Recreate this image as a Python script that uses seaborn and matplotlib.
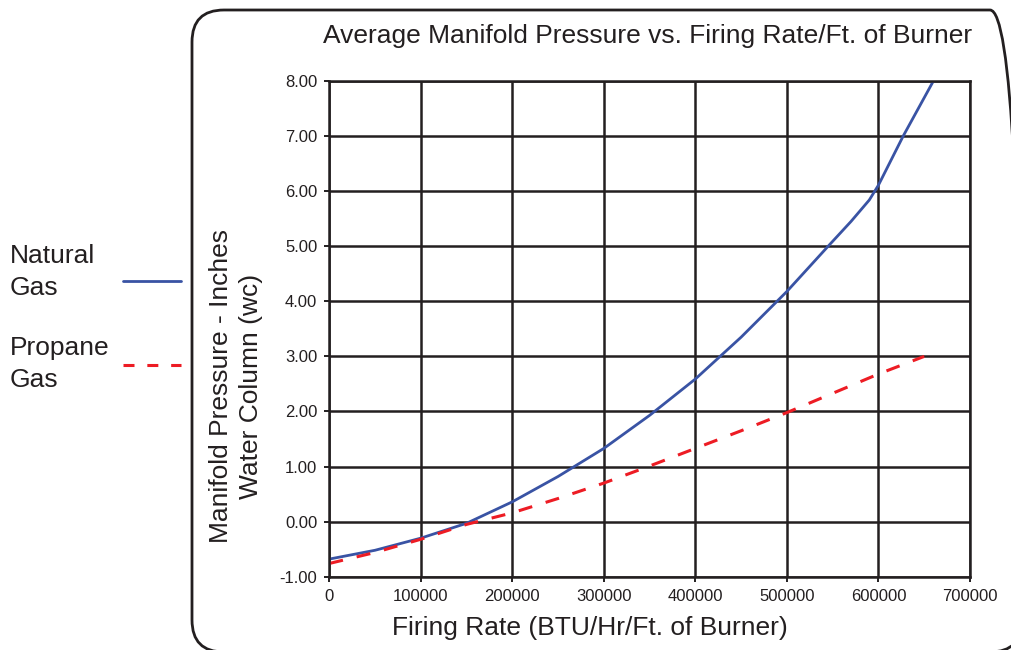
import pandas as pd
import seaborn as sns
import matplotlib.pyplot as plt
from matplotlib.lines import Line2D
from matplotlib.patches import FancyBboxPatch
from matplotlib.transforms import IdentityTransform

# values
natural_rate = [0, 50000, 100000, 150000, 200000, 250000, 300000, 350000, 400000,
                450000, 500000, 545000, 570000, 590000, 600000, 627000, 660000]
natural_psi = [-0.68, -0.52, -0.30, -0.03, 0.36, 0.82, 1.33, 1.93, 2.59,
               3.35, 4.18, 5.00, 5.45, 5.84, 6.11, 7.00, 8.00]

propane_rate = [0, 50000, 100000, 150000, 200000, 250000, 300000, 350000, 400000,
                450000, 500000, 550000, 600000, 650000]
propane_psi = [-0.76, -0.56, -0.32, -0.05, 0.16, 0.42, 0.70, 1.01, 1.33,
               1.65, 1.98, 2.33, 2.68, 3.00]

x_ticks = [0, 100000, 200000, 300000, 400000, 500000, 600000, 700000]
y_ticks = [-1, 0, 1, 2, 3, 4, 5, 6, 7, 8]

title = "Average Manifold Pressure vs. Firing Rate/Ft. of Burner"
x_label = "Firing Rate (BTU/Hr/Ft. of Burner)"
y_label = "Manifold Pressure - Inches\nWater Column (wc)"

ink = "#231f20"
blue = "#3953a4"
red = "#ed1c24"

sns.set_style("white")
plt.rcParams["font.family"] = ["Liberation Sans", "DejaVu Sans"]

natural = pd.DataFrame({"rate": natural_rate, "psi": natural_psi})
propane = pd.DataFrame({"rate": propane_rate, "psi": propane_psi})

fig = plt.figure(figsize=(10.11, 6.5), dpi=100)
ax = fig.add_axes([329.3 / 1011, 73.3 / 650, 640.7 / 1011, 495.7 / 650])

sns.lineplot(data=natural, x="rate", y="psi", ax=ax, color=blue, lw=2.0)
sns.lineplot(data=propane, x="rate", y="psi", ax=ax, color=red, lw=2.2,
             linestyle=(0, (4.6, 4.6)))

ax.set_xlim(0, 700000)
ax.set_ylim(-1, 8)
ax.set_xticks(x_ticks)
ax.set_xticklabels([str(v) for v in x_ticks])
ax.set_yticks(y_ticks)
ax.set_yticklabels([f"{v:.2f}" for v in y_ticks])
ax.set_xlabel("")
ax.set_ylabel("")
ax.grid(True, color=ink, lw=1.8)
ax.set_axisbelow(True)
for s in ax.spines.values():
    s.set_color(ink)
    s.set_linewidth(1.8)
ax.tick_params(axis="both", bottom=True, left=True, colors=ink, labelsize=12,
               length=3.6, width=1.4)
ax.tick_params(axis="y", pad=5)
ax.tick_params(axis="x", pad=5.5)

# texts in figure pixels
px = IdentityTransform()
fig.text(648, 650 - 43, title, transform=px, ha="center", va="baseline",
         fontsize=19, color=ink)
fig.text(590, 650 - 635, x_label, transform=px, ha="center", va="baseline",
         fontsize=19, color=ink)
fig.text(236, 650 - 386, y_label, transform=px, ha="center", va="center",
         rotation=90, multialignment="center", linespacing=1.3,
         fontsize=19, color=ink)

# legend on the left
fig.text(10, 650 - 263, "Natural", transform=px, va="baseline", fontsize=19, color=ink)
fig.text(10, 650 - 295, "Gas", transform=px, va="baseline", fontsize=19, color=ink)
fig.text(10, 650 - 355, "Propane", transform=px, va="baseline", fontsize=19, color=ink)
fig.text(10, 650 - 387, "Gas", transform=px, va="baseline", fontsize=19, color=ink)
fig.add_artist(Line2D([123, 181], [650 - 281] * 2, transform=px, color=blue, lw=2.0))
fig.add_artist(Line2D([123, 181], [650 - 365] * 2, transform=px, color=red, lw=2.2,
                      linestyle=(0, (3.6, 4.2))))

# rounded frame around the chart
frame = FancyBboxPatch((192, -2), 830, 642, boxstyle="round,pad=0,rounding_size=32",
                       transform=px, fill=False, edgecolor=ink, lw=2.0)
fig.add_artist(frame)

fig.savefig("out.png", dpi=100)
